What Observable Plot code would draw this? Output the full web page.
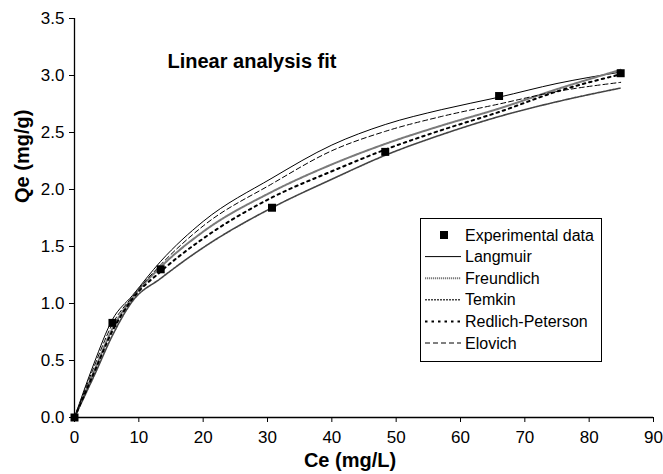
<!DOCTYPE html>
<html><head><meta charset="utf-8">
<script src="https://cdn.jsdelivr.net/npm/d3@7"></script>
<script src="https://cdn.jsdelivr.net/npm/@observablehq/plot@0.6"></script>
<style>
body{margin:0;background:#fff;}
svg{font-family:"Liberation Sans",Arial,sans-serif;}
</style>
</head><body><div id="chart"></div>
<script>
// Experimental data
const ceExp = [0, 5.9, 13.4, 30.7, 48.3, 66.0, 84.9];
const qeExp = [0, 0.83, 1.30, 1.84, 2.33, 2.82, 3.02];

// Model fits (linear analysis)
const ceFit      = [0, 3, 5.9, 9, 13.4, 20, 30.7, 40, 48.3, 57, 66, 75, 84.9];
const langmuir   = [0, 0.47, 0.86, 1.07, 1.37, 1.72, 2.10, 2.39, 2.57, 2.70, 2.81, 2.93, 3.03];
const freundlich = [0, 0.40, 0.78, 1.05, 1.32, 1.63, 1.98, 2.22, 2.40, 2.56, 2.71, 2.88, 3.05];
const temkin     = [0, 0.36, 0.72, 1.02, 1.22, 1.49, 1.84, 2.09, 2.30, 2.48, 2.64, 2.77, 2.89];
const redlichPeterson = [0, 0.39, 0.76, 1.04, 1.28, 1.57, 1.93, 2.16, 2.35, 2.52, 2.68, 2.86, 3.01];
const elovich    = [0, 0.44, 0.82, 1.06, 1.34, 1.68, 2.05, 2.34, 2.51, 2.64, 2.75, 2.86, 2.94];

const seriesNames = ["Langmuir", "Freundlich", "Temkin", "Redlich-Peterson", "Elovich"];
const seriesValues = [langmuir, freundlich, temkin, redlichPeterson, elovich];
const expLabel = "Experimental data";

const xTicks = [0, 10, 20, 30, 40, 50, 60, 70, 80, 90];
const yTicks = [0, 0.5, 1.0, 1.5, 2.0, 2.5, 3.0, 3.5];

const titleText = "Linear analysis fit";
const xLabel = "Ce (mg/L)";
const yLabel = "Qe (mg/g)";

// styles
const styles = {
  "Langmuir": {stroke: "#000", strokeWidth: 1, dash: null},
  "Freundlich": {stroke: "#7a7a7a", strokeWidth: 2, dash: "1.2 0.8"},
  "Temkin": {stroke: "#444", strokeWidth: 1.6, dash: "2 1"},
  "Redlich-Peterson": {stroke: "#000", strokeWidth: 2, dash: "2.5 4"},
  "Elovich": {stroke: "#000", strokeWidth: 1, dash: "5 3"}
};

const expData = ceExp.map((c, i) => ({ce: c, qe: qeExp[i]}));
const fitMarks = seriesNames.map((name, s) => {
  const st = styles[name];
  const data = ceFit.map((c, i) => ({ce: c, qe: seriesValues[s][i]}));
  return Plot.line(data, {x: "ce", y: "qe", curve: "monotone-x", stroke: st.stroke,
    strokeWidth: st.strokeWidth, strokeDasharray: st.dash ?? undefined});
});

const chart = Plot.plot({
  width: 663, height: 474,
  marginLeft: 74, marginRight: 10, marginTop: 18, marginBottom: 57,
  style: {fontFamily: "Liberation Sans, Arial, sans-serif", background: "#fff"},
  x: {domain: [0, 90]},
  y: {domain: [0, 3.5]},
  marks: [
    Plot.axisX({ticks: xTicks, tickSize: 5, tickPadding: 8, fontSize: 17, label: null, stroke: "#000"}),
    Plot.axisY({ticks: yTicks, tickSize: 5, tickPadding: 5, fontSize: 17, label: null, tickFormat: d => d.toFixed(1), stroke: "#000"}),
    ...fitMarks,
    Plot.ruleX([0], {stroke: "#000", strokeWidth: 1.3}),
    Plot.ruleY([0], {stroke: "#000", strokeWidth: 1.3}),
    Plot.dot(expData, {x: "ce", y: "qe", symbol: "square", r: 4.5, fill: "#000", stroke: "none"}),
    Plot.text([titleText], {frameAnchor: "top-left", textAnchor: "start", lineAnchor: "middle", dx: 93, dy: 43, fontSize: 20, fontWeight: "bold", fill: "#000"}),
    Plot.text([xLabel], {frameAnchor: "bottom", lineAnchor: "middle", dx: -14, dy: 43, fontSize: 20, fontWeight: "bold", fill: "#000"}),
    Plot.text([yLabel], {frameAnchor: "left", rotate: -90, lineAnchor: "middle", dx: -52, dy: -15, fontSize: 20, fontWeight: "bold", fill: "#000"})
  ]
});
document.getElementById("chart").appendChild(chart);

// Legend inside the plot area
const svg = d3.select(chart);
const lg = svg.append("g").attr("font-size", 16).attr("fill", "#000").attr("text-anchor", "start");
const bx = 420.5, by = 218.5, bw = 181, bh = 143;
lg.append("rect").attr("x", bx).attr("y", by).attr("width", bw).attr("height", bh)
  .attr("fill", "#fff").attr("stroke", "#000").attr("stroke-width", 1);
const rowY = i => 235 + i * 21.6;
lg.append("rect").attr("x", 440).attr("y", rowY(0) - 4).attr("width", 8).attr("height", 8).attr("fill", "#000");
lg.append("text").attr("x", 465).attr("y", rowY(0)).attr("dy", "0.35em").attr("text-anchor", "start").text(expLabel);
seriesNames.forEach((name, i) => {
  const st = styles[name];
  const y = rowY(i + 1);
  lg.append("line").attr("x1", 425).attr("x2", 461).attr("y1", y).attr("y2", y)
    .attr("stroke", st.stroke).attr("stroke-width", st.strokeWidth)
    .attr("stroke-dasharray", st.dash);
  lg.append("text").attr("x", 465).attr("y", y).attr("dy", "0.35em").attr("text-anchor", "start").text(name);
});
</script>
</body></html>
